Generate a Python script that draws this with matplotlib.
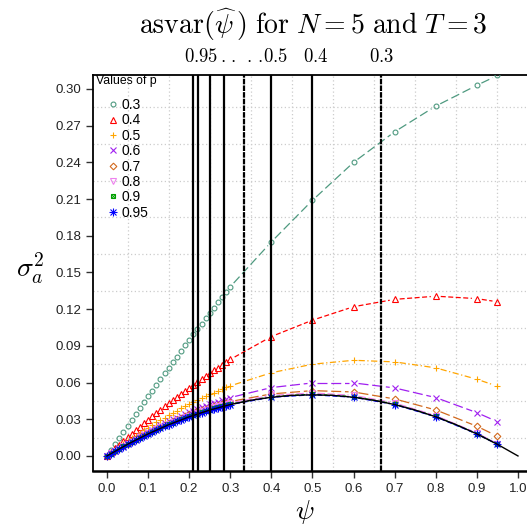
import numpy as np
import matplotlib
matplotlib.use("Agg")
import matplotlib.pyplot as plt
from matplotlib.transforms import blended_transform_factory

plt.rcParams['mathtext.fontset'] = 'cm'
plt.rcParams['font.family'] = ['Liberation Sans', 'DejaVu Sans']

# psi grid: fine steps up to 0.3, then coarse points
psi = [0.00, 0.01, 0.02, 0.03, 0.04, 0.05, 0.06, 0.07, 0.08, 0.09,
       0.10, 0.11, 0.12, 0.13, 0.14, 0.15, 0.16, 0.17, 0.18, 0.19,
       0.20, 0.21, 0.22, 0.23, 0.24, 0.25, 0.26, 0.27, 0.28, 0.29,
       0.30, 0.40, 0.50, 0.60, 0.70, 0.80, 0.90, 0.95]

p_labels = ['0.3', '0.4', '0.5', '0.6', '0.7', '0.8', '0.9', '0.95']

var_p30 = [0.0, 0.0050, 0.0099, 0.0149, 0.0198, 0.0247, 0.0295, 0.0344, 0.0392, 0.0439,
           0.0487, 0.0534, 0.0581, 0.0628, 0.0675, 0.0721, 0.0767, 0.0812, 0.0858, 0.0903,
           0.0948, 0.0993, 0.1037, 0.1081, 0.1125, 0.1169, 0.1212, 0.1255, 0.1298, 0.1341,
           0.1383, 0.175, 0.209, 0.240, 0.265, 0.286, 0.303, 0.311]
var_p40 = [0.0, 0.0031, 0.0062, 0.0092, 0.0123, 0.0152, 0.0182, 0.0211, 0.0240, 0.0268,
           0.0296, 0.0324, 0.0352, 0.0379, 0.0406, 0.0432, 0.0458, 0.0484, 0.0509, 0.0534,
           0.0559, 0.0584, 0.0608, 0.0632, 0.0655, 0.0678, 0.0701, 0.0723, 0.0745, 0.0767,
           0.0789, 0.0976, 0.111, 0.122, 0.128, 0.1306, 0.1286, 0.126]
var_p50 = [0.0, 0.0025, 0.0050, 0.0074, 0.0098, 0.0121, 0.0144, 0.0167, 0.0189, 0.0211,
           0.0232, 0.0253, 0.0274, 0.0294, 0.0314, 0.0333, 0.0352, 0.0370, 0.0388, 0.0406,
           0.0423, 0.0440, 0.0456, 0.0472, 0.0488, 0.0503, 0.0518, 0.0532, 0.0546, 0.0560,
           0.0573, 0.068, 0.075, 0.0782, 0.0769, 0.072, 0.0627, 0.057]
var_p60 = [0.0, 0.0021, 0.0043, 0.0063, 0.0084, 0.0104, 0.0123, 0.0142, 0.0161, 0.0180,
           0.0198, 0.0215, 0.0232, 0.0249, 0.0266, 0.0282, 0.0298, 0.0313, 0.0328, 0.0342,
           0.0357, 0.0370, 0.0384, 0.0397, 0.0409, 0.0422, 0.0434, 0.0445, 0.0456, 0.0467,
           0.0477, 0.0559, 0.0597, 0.0597, 0.0556, 0.0477, 0.0354, 0.028]
var_p70 = [0.0, 0.0021, 0.0042, 0.0062, 0.0082, 0.0101, 0.0120, 0.0138, 0.0156, 0.0174,
           0.0191, 0.0208, 0.0224, 0.0240, 0.0256, 0.0271, 0.0285, 0.0300, 0.0313, 0.0327,
           0.0340, 0.0352, 0.0364, 0.0376, 0.0387, 0.0398, 0.0408, 0.0418, 0.0427, 0.0436,
           0.0445, 0.0507, 0.0534, 0.0523, 0.0466, 0.0376, 0.0243, 0.0161]
var_p80 = [0.0, 0.0021, 0.0040, 0.0060, 0.0079, 0.0098, 0.0116, 0.0134, 0.0152, 0.0169,
           0.0186, 0.0202, 0.0218, 0.0233, 0.0248, 0.0263, 0.0277, 0.0291, 0.0304, 0.0317,
           0.0330, 0.0342, 0.0353, 0.0365, 0.0376, 0.0386, 0.0397, 0.0406, 0.0415, 0.0424,
           0.0433, 0.0495, 0.0515, 0.0495, 0.0433, 0.0330, 0.0188, 0.0100]
var_p90 = [0.0, 0.0020, 0.0039, 0.0059, 0.0078, 0.0096, 0.0114, 0.0131, 0.0148, 0.0166,
           0.0182, 0.0198, 0.0213, 0.0228, 0.0243, 0.0258, 0.0272, 0.0285, 0.0298, 0.0311,
           0.0323, 0.0335, 0.0346, 0.0358, 0.0369, 0.0379, 0.0389, 0.0398, 0.0407, 0.0416,
           0.0424, 0.0485, 0.0505, 0.0485, 0.0424, 0.0323, 0.0182, 0.0096]
var_p95 = [0.0, 0.0020, 0.0039, 0.0058, 0.0077, 0.0095, 0.0113, 0.0130, 0.0147, 0.0164,
           0.0180, 0.0196, 0.0211, 0.0226, 0.0241, 0.0255, 0.0269, 0.0282, 0.0295, 0.0308,
           0.0320, 0.0332, 0.0343, 0.0354, 0.0365, 0.0375, 0.0385, 0.0394, 0.0403, 0.0412,
           0.0420, 0.0480, 0.0500, 0.0480, 0.0420, 0.0320, 0.0180, 0.0095]

# limiting curve
lim_psi = [0.00, 0.05, 0.10, 0.15, 0.20, 0.25, 0.30, 0.35, 0.40, 0.45, 0.50,
           0.55, 0.60, 0.65, 0.70, 0.75, 0.80, 0.85, 0.90, 0.95, 1.00]
lim_var = [0.0, 0.0095, 0.0180, 0.0255, 0.0320, 0.0375, 0.0420, 0.0455, 0.0480, 0.0495, 0.0500,
           0.0495, 0.0480, 0.0455, 0.0420, 0.0375, 0.0320, 0.0255, 0.0180, 0.0095, 0.0]

# vertical reference lines (one per p)
vline_psi = [0.2105, 0.2222, 0.25, 0.2857, 0.3333, 0.4, 0.5, 0.6667]
vline_dotted = [False, False, False, False, True, False, False, True]

# labels above the plot
top_text = ['0.95', '.', '.', '.', '.', '0.5', '0.4', '0.3']
top_text_psi = [0.228, 0.281, 0.307, 0.344, 0.372, 0.411, 0.509, 0.667]

all_vars = [var_p30, var_p40, var_p50, var_p60, var_p70, var_p80, var_p90, var_p95]
colors = ['#4f9a80', '#ff0000', '#ffa500', '#a020f0', '#d2691e', '#ee82ee', '#00a000', '#0000ff']
# second marker drawn over the first for combined R symbols
markers = [('o', None), ('^', None), ('+', None), ('x', None), ('D', None),
           ('v', None), ('s', 'x'), ('+', 'x')]
msizes = [3.5, 4.2, 5.0, 4.0, 3.4, 4.2, 3.4, 5.2]
dashes = [(7, 3), (4, 2), (5, 2, 1, 2), (8, 3), (8, 3), (6, 2), (3, 2), (4, 2)]


def gapped_line(ax, x, y, gap, **kw):
    # lines broken around points, like R's type="b"
    pts = ax.transData.transform(np.column_stack([x, y]))
    inv = ax.transData.inverted()
    for a, b in zip(pts[:-1], pts[1:]):
        d = b - a
        L = np.hypot(d[0], d[1])
        if L <= 2 * gap:
            continue
        u = d / L
        seg = inv.transform(np.array([a + u * gap, b - u * gap]))
        ax.plot(seg[:, 0], seg[:, 1], **kw)


fig = plt.figure(figsize=(5.27, 5.26), dpi=100)
W, H = 527, 526
ax = fig.add_axes([93 / W, (H - 471) / H, 441 / W, 396 / H])
ax.set_xlim(-0.034, 1.039)
ax.set_ylim(-0.0123, 0.3114)

ax.set_xticks(np.arange(0, 1.01, 0.1))
ax.set_xticklabels(['%.1f' % v for v in np.arange(0, 1.01, 0.1)])
ax.set_yticks(np.arange(0, 0.301, 0.03))
ax.set_yticklabels(['%.2f' % v for v in np.arange(0, 0.301, 0.03)])
ax.set_xticks(np.arange(0, 1.01, 0.05), minor=True)
ax.set_yticks(np.arange(0, 0.301, 0.015), minor=True)
ax.grid(which='minor', color='#cccccc', linestyle=(0, (1, 2)), linewidth=0.9)
ax.set_axisbelow(True)
ax.tick_params(which='minor', length=0)
ax.tick_params(which='major', direction='out', length=5, width=1,
               labelsize=9.5, labelcolor='#222222', color='#333333')
for s in ax.spines.values():
    s.set_linewidth(1.3)
ax.spines['bottom'].set_linewidth(1.8)

handles = []
for vals, c, (m1, m2), ms, dsh in zip(all_vars, colors, markers, msizes, dashes):
    gapped_line(ax, psi, vals, 5, color=c, lw=0.9, dashes=dsh, zorder=2)
    filled = m1 in ('+', 'x')
    h1, = ax.plot(psi, vals, ls='none', marker=m1, ms=ms, mew=0.8, mec=c,
                  mfc=c if filled else 'none', zorder=3)
    if m2 is not None:
        ms2 = ms * 0.75 if m1 == 's' else ms * 0.85
        h2, = ax.plot(psi, vals, ls='none', marker=m2, ms=ms2, mew=0.7 if m1 == 's' else 0.8,
                      mec=c, zorder=3)
        handles.append((h1, h2))
    else:
        handles.append(h1)

ax.plot(lim_psi, lim_var, color='black', lw=1.0, zorder=4)

for xv, dot in zip(vline_psi, vline_dotted):
    ax.axvline(xv, color='black', lw=1.6, zorder=5,
               linestyle=(0, (2.5, 0.5)) if dot else '-')

tr = blended_transform_factory(ax.transData, ax.transAxes)
for t, xv in zip(top_text, top_text_psi):
    ax.text(xv, 1.045, '$%s$' % t, transform=tr, ha='center', va='center', fontsize=13.5)

fig.text(313.5 / W, 1 - 25 / H,
         r'$\mathrm{asvar}(\widehat{\psi}\,)\ \mathrm{for}\ N=5\ \mathrm{and}\ T=3$',
         ha='center', va='center', fontsize=20)

ax.set_ylabel(r'$\sigma_a^2$', rotation=0, fontsize=20, va='center', ha='center')
ax.yaxis.set_label_coords(-0.143, 0.513)
ax.set_xlabel(r'$\psi$', fontsize=20, va='center')
ax.xaxis.set_label_coords(0.481, -0.104)

ax.text(3 / 441, (471 - 81) / 396, 'Values of p', transform=ax.transAxes,
        ha='left', va='center', fontsize=8.8)
leg = ax.legend(handles, p_labels, loc='upper left',
                bbox_to_anchor=((106.5 - 93) / 441, (471 - 98) / 396),
                frameon=False, fontsize=10, handlelength=0.9, handletextpad=0.2,
                labelspacing=0.1, borderaxespad=0.0, borderpad=0.0)

fig.savefig('out.png', dpi=100)
